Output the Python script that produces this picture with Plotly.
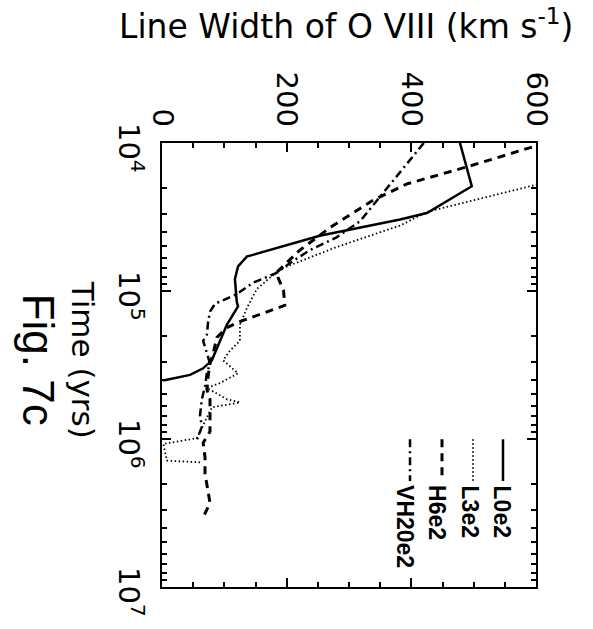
import plotly.graph_objects as go

# ---------------- data ----------------
# Time in years, line width of O VIII in km/s
t_L0e2 = [1.0e4, 1.96e4, 2.97e4, 3.29e4, 4.23e4, 5.18e4, 5.86e4, 6.82e4, 8.30e4,
          1.19e5, 1.27e5, 1.69e5, 2.94e5, 3.33e5, 3.69e5, 4.02e5]
w_L0e2 = [478, 497, 425, 382, 253, 179, 136, 122, 117,
          120, 122, 104, 80, 66, 45, 2]

t_L3e2 = [1.0e4, 2.92e4, 3.61e4, 5.05e4, 6.17e4, 7.14e4, 9.70e4, 1.31e5, 1.69e5,
          2.17e5, 2.53e5, 2.94e5, 3.60e5, 4.19e5, 4.52e5, 5.38e5, 5.66e5, 6.11e5,
          9.86e5, 1.08e6, 1.40e6, 1.44e6]
w_L3e2 = [870, 425, 382, 280, 227, 189, 152, 136, 125,
          125, 109, 98, 122, 93, 72, 104, 125, 80,
          56, 2, 8, 64]

t_H6e2 = [1.0e4, 1.43e4, 1.89e4, 2.43e4, 3.72e4, 5.30e4, 7.55e4, 9.95e4, 1.25e5,
          1.38e5, 1.61e5, 1.77e5, 2.06e5, 2.66e5, 3.09e5, 3.77e5, 4.63e5, 5.38e5,
          8.91e5, 1.06e6, 1.33e6, 1.71e6, 2.21e6, 2.70e6, 3.39e6]
w_H6e2 = [615, 494, 393, 339, 270, 221, 183, 195, 197,
          168, 125, 104, 88, 82, 77, 74, 72, 77,
          77, 66, 69, 69, 74, 77, 66]

t_VH20e2 = [1.0e4, 2.33e4, 3.37e4, 4.34e4, 5.30e4, 6.49e4, 7.55e4, 8.79e4, 1.05e5,
            1.22e5, 1.38e5, 1.61e5, 1.97e5, 2.17e5, 2.66e5, 3.09e5, 3.60e5, 4.38e5,
            5.38e5, 6.92e5, 8.26e5, 1.01e6]
w_VH20e2 = [420, 350, 318, 280, 237, 205, 184, 146, 120,
            85, 77, 74, 72, 66, 72, 77, 72, 69,
            64, 61, 64, 56]

series_names = ["L0e2", "L3e2", "H6e2", "VH20e2"]
x_ticks = [0, 200, 400, 600]
y_ticks = [1e4, 1e5, 1e6, 1e7]
y_ticktext = ["&nbsp;&nbsp;10<sup>4</sup>", "&nbsp;&nbsp;10<sup>5</sup>",
              "&nbsp;&nbsp;10<sup>6</sup>", "&nbsp;&nbsp;10<sup>7</sup>"]
x_title = "Line Width of O VIII (km s<sup>-1</sup>)"
y_title = "Time (yrs)"
fig_label = "Fig. 7c"

# ---------------- styles ----------------
styles = {
    "L0e2": dict(dash="solid", width=2.5),
    "L3e2": dict(dash="1.5px,2.5px", width=1.8),
    "H6e2": dict(dash="8px,6px", width=3),
    "VH20e2": dict(dash="8px,4px,2px,4px", width=2.5),
}

W, H = 593, 629
L, R, T, B = 162, 536, 143, 600


def px(x):
    return (x - L) / (R - L)


def py(y):
    return (B - y) / (B - T)


fig = go.Figure()
data = {
    "L0e2": (t_L0e2, w_L0e2),
    "L3e2": (t_L3e2, w_L3e2),
    "H6e2": (t_H6e2, w_H6e2),
    "VH20e2": (t_VH20e2, w_VH20e2),
}
for name in series_names:
    t, w = data[name]
    fig.add_trace(go.Scatter(x=w, y=t, mode="lines", name=name,
                             line=dict(color="black", **styles[name])))

minor_y = [m * 10 ** e for e in range(4, 7) for m in range(2, 10)]

fig.update_layout(
    width=W, height=H,
    margin=dict(l=L, r=W - R, t=T, b=H - B),
    paper_bgcolor="white", plot_bgcolor="white",
    showlegend=False,
    font=dict(family="DejaVu Sans", color="black"),
    xaxis=dict(range=[0, 600], side="top", tickvals=x_ticks,
               ticktext=[str(v) for v in x_ticks], tickangle=90,
               ticks="inside", ticklen=9, tickwidth=1.5, tickcolor="black",
               showline=True, linewidth=2, linecolor="black", mirror="allticks",
               showgrid=False, zeroline=False,
               tickfont=dict(family="DejaVu Sans", size=29, color="black"),
               ticklabelstandoff=4, ticklabeloverflow="allow",
               minor=dict(dtick=50, ticks="inside", ticklen=5, tickwidth=1.5,
                          tickcolor="black", showgrid=False)),
    yaxis=dict(type="log", range=[7, 4], tickvals=y_ticks, ticktext=y_ticktext,
               tickangle=90, ticks="inside", ticklen=9, tickwidth=1.5,
               tickcolor="black", showline=True, linewidth=2, linecolor="black",
               mirror="allticks", showgrid=False, zeroline=False,
               tickfont=dict(family="DejaVu Sans", size=29, color="black"),
               ticklabelstandoff=6, ticklabeloverflow="allow",
               minor=dict(tickvals=minor_y, ticks="inside", ticklen=5,
                          tickwidth=1.5, tickcolor="black", showgrid=False)),
)

ann = []
# axis titles
ann.append(dict(text=x_title, xref="paper", yref="paper", x=px(346), y=py(21),
                xanchor="center", yanchor="middle", showarrow=False,
                font=dict(family="DejaVu Sans", size=33, color="black")))
ann.append(dict(text=y_title, xref="paper", yref="paper", x=px(83), y=py(366),
                xanchor="center", yanchor="middle", showarrow=False, textangle=90,
                font=dict(family="DejaVu Sans", size=31, color="black")))
ann.append(dict(text=fig_label, xref="paper", yref="paper", x=px(38), y=py(366),
                xanchor="center", yanchor="middle", showarrow=False, textangle=90,
                font=dict(family="Liberation Sans", size=44, color="black")))

# rotated legend
leg_text_x = [501.5, 469.5, 437.5, 405.5]
leg_line_x = [503, 473, 442, 410]
shapes = []
for i, name in enumerate(series_names):
    st = styles[name]
    shapes.append(dict(type="line", xref="paper", yref="paper",
                       x0=px(leg_line_x[i]), x1=px(leg_line_x[i]),
                       y0=py(448), y1=py(491),
                       line=dict(color="black", width=st["width"], dash=st["dash"])))
    ann.append(dict(text="<b>%s</b>" % name, xref="paper", yref="paper",
                    x=px(leg_text_x[i]), y=py(493), xanchor="center", yanchor="top",
                    showarrow=False, textangle=90,
                    font=dict(family="Liberation Sans", size=23, color="black")))

fig.update_layout(annotations=ann, shapes=shapes)
fig.write_html("out.html")
